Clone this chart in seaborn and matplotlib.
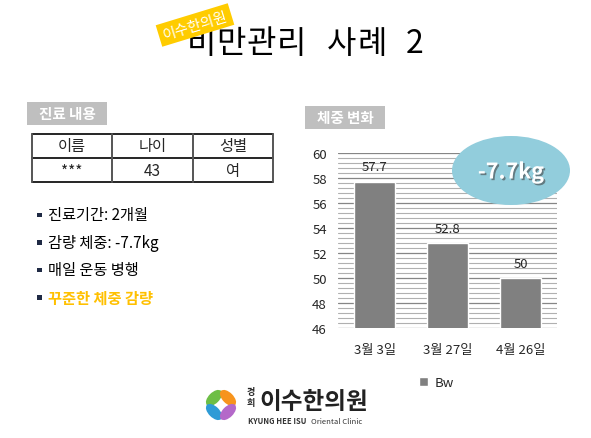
import numpy as np
import pandas as pd
import matplotlib
matplotlib.use("Agg")
import matplotlib.pyplot as plt
import matplotlib.patheffects as pe
from matplotlib.patches import Ellipse, Rectangle
from matplotlib.ticker import MultipleLocator
import seaborn as sns

# 데이터
dates = ["3월 3일", "3월 27일", "4월 26일"]
weights = [57.7, 52.8, 50.0]
series_name = "Bw"
y_ticks = [46, 48, 50, 52, 54, 56, 58, 60]

table_header = ["이름", "나이", "성별"]
table_row = ["***", "43", "여"]
bullets = ["진료기간: 2개월", "감량 체중: -7.7kg", "매일 운동 병행", "꾸준한 체중 감량"]
loss_text = "-7.7kg"
title = "비만관리 사례 2"

sns.set_style("white")
plt.rcParams['font.family'] = ['Noto Sans CJK KR', 'DejaVu Sans']

W, H = 591, 439
fig = plt.figure(figsize=(W / 100, H / 100), dpi=100)
fig.patch.set_facecolor("white")

# 막대 그래프
ax = fig.add_axes([338 / W, 1 - 329 / H, 219 / W, 175 / H])
df = pd.DataFrame({"date": dates, "bw": weights})
sns.barplot(data=df, x="date", y="bw", color="#808080", saturation=1,
            width=0.56, ax=ax, label=series_name)
ax.set_ylim(46, 60)
ax.set_yticks(y_ticks)
ax.yaxis.set_minor_locator(MultipleLocator(0.4))
ax.set_axisbelow(True)
ax.grid(which="major", axis="y", color="#868686", lw=0.9)
ax.grid(which="minor", axis="y", color="#b0b0b0", lw=0.8)
for s in ax.spines.values():
    s.set_visible(False)
ax.set_xlabel("")
ax.set_ylabel("")
ax.tick_params(axis="both", which="both", length=0)
ax.tick_params(axis="y", labelsize=9.5, pad=8)
ax.tick_params(axis="x", labelsize=9.5, pad=11)
ax.set_xlim(-0.5, 2.5)
for c in ax.containers:
    ax.bar_label(c, labels=[f"{v:g}" for v in weights], padding=6, fontsize=9.5)
ax.legend(loc="center", bbox_to_anchor=(0.45, -0.31), frameon=False,
          fontsize=9.5, handlelength=0.7, handleheight=0.7, handletextpad=0.5)

# 장식 레이어 (픽셀 좌표)
ov = fig.add_axes([0, 0, 1, 1], zorder=5)
ov.set_xlim(0, W)
ov.set_ylim(H, 0)
ov.axis("off")
ov.patch.set_alpha(0)

# 제목 (글자 간격을 넓게)
title_x = [201, 231, 261, 291, None, 342, 372, None, 415]
for ch, tx in zip(title, title_x):
    if tx is None:
        continue
    ov.text(tx, 44, ch, fontsize=23, ha="center", va="center", color="black")
ov.text(195, 26, "이수한의원", fontsize=10.5, color="white", ha="center", va="center",
        rotation=17, bbox=dict(facecolor="#FFCC00", edgecolor="none", pad=3))

# 섹션 라벨
for x0, y0, txt in [(27, 103, "진료 내용"), (305, 107, "체중 변화")]:
    ov.add_patch(Rectangle((x0, y0), 80, 23, facecolor="#BFBFBF", edgecolor="none"))
    ov.text(x0 + 40, y0 + 11.5, txt, fontsize=10.5, weight="bold", color="white",
            ha="center", va="center")

# 표
xs = [32, 112, 193, 273]
ys = [135, 159, 183]
for y in ys:
    ov.plot([xs[0], xs[-1]], [y, y], color="black", lw=1.2)
for xv in xs:
    ov.plot([xv, xv], [ys[0], ys[-1]], color="#555555", lw=1.4)
for i in range(3):
    cx = (xs[i] + xs[i + 1]) / 2
    ov.text(cx, 147, table_header[i], fontsize=11, ha="center", va="center")
    ov.text(cx, 172, table_row[i], fontsize=11, ha="center", va="center")

# 글머리 항목
for i, b in enumerate(bullets):
    y = 216 + i * 27.5
    last = i == len(bullets) - 1
    ov.add_patch(Rectangle((37, y - 2.5), 4.5, 4.5, facecolor="#1F2A44", edgecolor="none"))
    ov.text(48, y, b, fontsize=11, va="center", ha="left",
            color="#FFC000" if last else "black", weight="bold" if last else "normal")

# 감량 타원
ov.add_patch(Ellipse((511, 171.5), 118, 69, facecolor="#92CDDC", edgecolor="none"))
ov.text(511, 173, loss_text, fontsize=15.5, weight="bold", color="white",
        ha="center", va="center",
        path_effects=[pe.withSimplePatchShadow(offset=(1.2, -1.2), shadow_rgbFace="#444444", alpha=0.6)])

# 로고
cx, cy = 221, 406
petals = [(-7, -7, 135, "#6DBE45"), (7, -7, 45, "#F7941D"),
          (-7, 7, 45, "#2E9BD6"), (7, 7, 135, "#B469C9")]
for dx, dy, ang, col in petals:
    ov.add_patch(Ellipse((cx + dx, cy + dy), 20, 11, angle=ang, facecolor=col, edgecolor="none"))
ov.add_patch(Ellipse((cx, cy), 5, 5, facecolor="white", edgecolor="none"))
ov.text(251, 393, "경", fontsize=6.5, ha="center", va="center", weight="bold")
ov.text(251, 404, "희", fontsize=6.5, ha="center", va="center", weight="bold")
ov.text(259, 402, "이수한의원", fontsize=17, ha="left", va="center", weight="bold", color="#222222")
ov.text(248, 422, "KYUNG HEE ISU", fontsize=5.5, ha="left", va="center", weight="bold", color="#333333")
ov.text(311, 422, "Oriental Clinic", fontsize=5.5, ha="left", va="center", color="#333333")

fig.savefig("out.png", dpi=100)
